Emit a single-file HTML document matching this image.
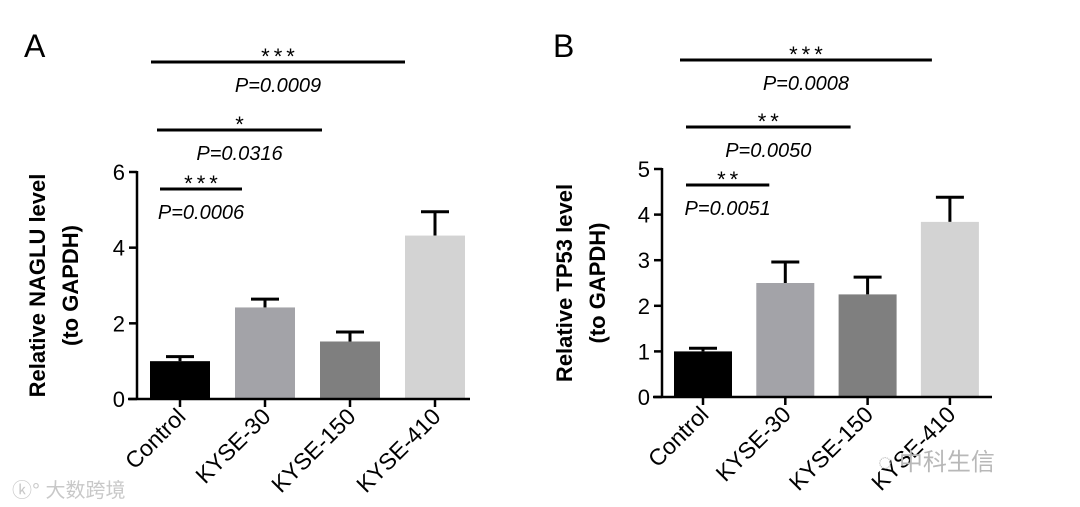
<!DOCTYPE html>
<html><head><meta charset="utf-8"><style>
html,body{margin:0;padding:0;background:#fff;width:1080px;height:507px;overflow:hidden}
svg{display:block;font-family:"Liberation Sans",Arial,sans-serif}
</style></head><body>
<svg id="chart" width="1080" height="507" viewBox="0 0 1080 507"></svg>
<script>
const categories = ["Control","KYSE-30","KYSE-150","KYSE-410"];
const colors = ["#000000","#a3a3a8","#7f7f7f","#d3d3d3"];
const valuesA = [1.0, 2.42, 1.52, 4.32];
const errA = [0.12, 0.22, 0.25, 0.63];
const ticksA = [0, 2, 4, 6];
const valuesB = [1.0, 2.5, 2.25, 3.84];
const errB = [0.07, 0.46, 0.38, 0.54];
const ticksB = [0, 1, 2, 3, 4, 5];
const sigA = [
  {from:0,to:3,stars:"***",p:"P=0.0009"},
  {from:0,to:2,stars:"*",p:"P=0.0316"},
  {from:0,to:1,stars:"***",p:"P=0.0006"}];
const sigB = [
  {from:0,to:3,stars:"***",p:"P=0.0008"},
  {from:0,to:2,stars:"**",p:"P=0.0050"},
  {from:0,to:1,stars:"**",p:"P=0.0051"}];

const NS="http://www.w3.org/2000/svg";
const svg=document.getElementById('chart');
function mk(tag,attrs,parent,text){const e=document.createElementNS(NS,tag);for(const k in attrs)e.setAttribute(k,attrs[k]);if(text!==undefined)e.textContent=text;(parent||svg).appendChild(e);return e;}

function panel(cfg){
  const g=mk('g',{});
  
  
  const yScale=v=>cfg.y0-(v/cfg.ymax)*(cfg.y0-cfg.ytop);
  const xC=i=>cfg.firstC+i*cfg.step;
  const L=mk('text',{x:cfg.letterX,y:57,'font-size':32},g,cfg.letter);
  
  
  cfg.values.forEach((v,i)=>{
    const x=xC(i)-cfg.bw/2, y=yScale(v), ye=yScale(v+cfg.err[i]);
    const eb=mk('g',{},g);
    
    
    mk('line',{x1:xC(i),x2:xC(i),y1:y,y2:ye,stroke:'#000','stroke-width':3},eb);
    mk('line',{x1:xC(i)-14,x2:xC(i)+14,y1:ye,y2:ye,stroke:'#000','stroke-width':3},eb);
    const r=mk('rect',{x:x,y:y,width:cfg.bw,height:cfg.y0-y,fill:colors[i]},g);
    
    
  });
  const ya=mk('line',{x1:cfg.ax,x2:cfg.ax,y1:cfg.ytop-1,y2:cfg.y0+1,stroke:'#000','stroke-width':2.5},g);
  
  
  const xa=mk('line',{x1:cfg.ax-9,x2:cfg.axEnd,y1:cfg.y0,y2:cfg.y0,stroke:'#000','stroke-width':2.5},g);
  
  
  cfg.ticks.forEach(t=>{
    const y=yScale(t);
    mk('line',{x1:cfg.ax-8,x2:cfg.ax,y1:y,y2:y,stroke:'#000','stroke-width':2.5},g);
    const tl=mk('text',{x:cfg.ax-12,y:y+8,'font-size':22,'text-anchor':'end'},g,String(t));
    
    
  });
  categories.forEach((c,i)=>{
    const x=xC(i);
    mk('line',{x1:x,x2:x,y1:cfg.y0,y2:cfg.y0+8,stroke:'#000','stroke-width':2.5},g);
    const tl=mk('text',{x:x+7,y:cfg.y0+19,'font-size':23,'text-anchor':'end',transform:`rotate(-45 ${x+7} ${cfg.y0+19})`},g,c);
    
    
  });
  const cy=(cfg.y0+cfg.ytop)/2;
  const t1=mk('text',{x:cfg.titleX,y:cy,'font-size':22,'font-weight':'bold','text-anchor':'middle',transform:`rotate(-90 ${cfg.titleX} ${cy})`},g,cfg.title);
  
  
  const t2=mk('text',{x:cfg.titleX+33,y:cy,'font-size':22,'font-weight':'bold','text-anchor':'middle',transform:`rotate(-90 ${cfg.titleX+33} ${cy})`},g,'(to GAPDH)');
  
  
  cfg.sig.forEach((s,k)=>{
    const sg=mk('g',{},g);
    
    
    const yl=cfg.sigY[k];
    const x1=cfg.sigX1[k], x2=xC(s.to)+cfg.sigExt[k];
    mk('line',{x1:x1,x2:x2,y1:yl,y2:yl,stroke:'#000','stroke-width':3},sg);
    const mid=(x1+x2)/2;
    mk('text',{x:mid+2,y:yl+2,'font-size':22,'letter-spacing':4,'text-anchor':'middle'},sg,s.stars);
    mk('text',{x:mid,y:yl+30,'font-size':20,'font-style':'italic','text-anchor':'middle'},sg,s.p);
  });
}
panel({name:'panel-a',letter:'A',letterX:24,values:valuesA,err:errA,ticks:ticksA,ymax:6,y0:399,ytop:172,ax:137,axEnd:470,firstC:180,step:85,bw:60,titleX:45,title:'Relative NAGLU level',sig:sigA,sigY:[62,130,189],sigX1:[151,157,160],sigExt:[-30,-28,-23]});
panel({name:'panel-b',letter:'B',letterX:553,values:valuesB,err:errB,ticks:ticksB,ymax:5,y0:397,ytop:169,ax:662,axEnd:992,firstC:703,step:82.3,bw:58,titleX:572,title:'Relative TP53 level',sig:sigB,sigY:[60,127,185],sigX1:[680,686,686],sigExt:[-18,-17,-16]});
const w1=mk('text',{x:12,y:497,'font-size':20,fill:'#c8c8c8','font-family':'"Liberation Sans","Noto Sans CJK SC",sans-serif'},svg,'ⓚ° 大数跨境');


const w2=mk('text',{x:878,y:470,'font-size':24,fill:'#b8b8b8','font-family':'"Liberation Sans","Noto Sans CJK SC",sans-serif'},svg,'◌ 中科生信');


</script>
</body></html>
